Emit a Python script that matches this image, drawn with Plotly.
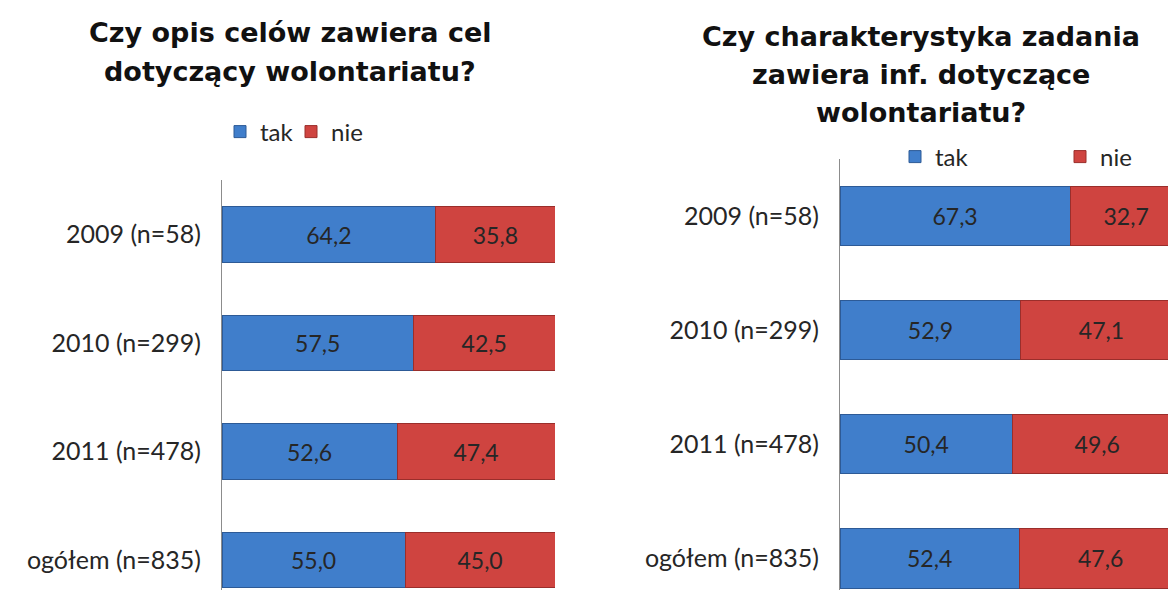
import plotly.graph_objects as go

categories = ["2009 (n=58)", "2010 (n=299)", "2011 (n=478)", "ogółem (n=835)"]
series_names = ["tak", "nie"]

left_title_lines = ["Czy opis celów zawiera cel", "dotyczący wolontariatu?"]
left_tak = [64.2, 57.5, 52.6, 55.0]
left_nie = [35.8, 42.5, 47.4, 45.0]

right_title_lines = ["Czy charakterystyka zadania", "zawiera inf. dotyczące", "wolontariatu?"]
right_tak = [67.3, 52.9, 50.4, 52.4]
right_nie = [32.7, 47.1, 49.6, 47.6]

BLUE = "#407ecb"
BLUE_LINE = "#2d5a96"
RED = "#cf4440"
RED_LINE = "#9a2e2b"
FONT = "Lato"
TITLE_FONT = "DejaVu Sans"
TXT = "#262626"

W, H = 1176, 590
OFF = 8  # page body margin: figure is drawn 8px right/down in the window


def fx(sx):
    return (sx - OFF) / W


def fy(sy):
    return (H - (sy - OFF)) / H


fig = go.Figure()


def add_pair(tak, nie, xa, ya, legends, width):
    for name, vals, col, lc, lg in [(series_names[0], tak, BLUE, BLUE_LINE, legends[0]),
                                    (series_names[1], nie, RED, RED_LINE, legends[1])]:
        fig.add_trace(go.Bar(
            name=name, y=categories, x=vals, orientation="h",
            xaxis=xa, yaxis=ya, legend=lg,
            marker=dict(color=col, line=dict(color=lc, width=1)),
            width=width,
            texttemplate="%{x:.1f}", textposition="inside",
            insidetextanchor="middle",
            textfont=dict(family=FONT, size=23, color=TXT),
            constraintext="none",
            hoverinfo="skip",
        ))


add_pair(left_tak, left_nie, "x", "y", ("legend", "legend2"), 0.51)
add_pair(right_tak, right_nie, "x2", "y2", ("legend3", "legend4"), 0.517)

axis_line = dict(showline=True, linecolor="#8c8c8c", linewidth=1)
tickfont = dict(family=FONT, size=25, color=TXT)

annotations = []
for line, sy in zip(left_title_lines, [32, 72]):
    annotations.append(dict(text="<b>" + line + "</b>", x=fx(290), y=fy(sy),
                            xref="paper", yref="paper", xanchor="center", yanchor="middle",
                            showarrow=False, font=dict(family=TITLE_FONT, size=27, color="#111111")))
for line, sy in zip(right_title_lines, [36, 74.5, 113]):
    annotations.append(dict(text="<b>" + line + "</b>", x=fx(921), y=fy(sy),
                            xref="paper", yref="paper", xanchor="center", yanchor="middle",
                            showarrow=False, font=dict(family=TITLE_FONT, size=27, color="#111111")))


def legend_at(sx, sy):
    return dict(orientation="h", x=fx(sx), xanchor="left", y=fy(sy), yanchor="middle",
                font=dict(family=FONT, size=24, color=TXT), itemwidth=30,
                bgcolor="rgba(0,0,0,0)")


fig.update_layout(
    width=W, height=H,
    margin=dict(l=0, r=0, t=0, b=0, autoexpand=False),
    paper_bgcolor="white", plot_bgcolor="white",
    barmode="stack",
    separators=", ",
    font=dict(family=FONT, color=TXT),
    showlegend=True,
    xaxis=dict(domain=[fx(222), fx(555)], range=[0, 100], visible=False, anchor="y"),
    yaxis=dict(domain=[0, fy(180.25)], range=[3.35, -0.5], type="category",
               categoryorder="array", categoryarray=categories,
               tickfont=tickfont, ticks="", ticklabelstandoff=15,
               showgrid=False, anchor="x", **axis_line),
    xaxis2=dict(domain=[fx(840), 1.0], range=[0, 100.58], visible=False, anchor="y2"),
    yaxis2=dict(domain=[0, fy(158.9)], range=[3.346, -0.5], type="category",
                categoryorder="array", categoryarray=categories,
                tickfont=tickfont, ticks="", ticklabelstandoff=15,
                showgrid=False, anchor="x2", **axis_line),
    legend=legend_at(220, 132),
    legend2=legend_at(291, 132),
    legend3=legend_at(895, 157),
    legend4=legend_at(1060, 157),
    annotations=annotations,
)

fig.write_html("out.html")
